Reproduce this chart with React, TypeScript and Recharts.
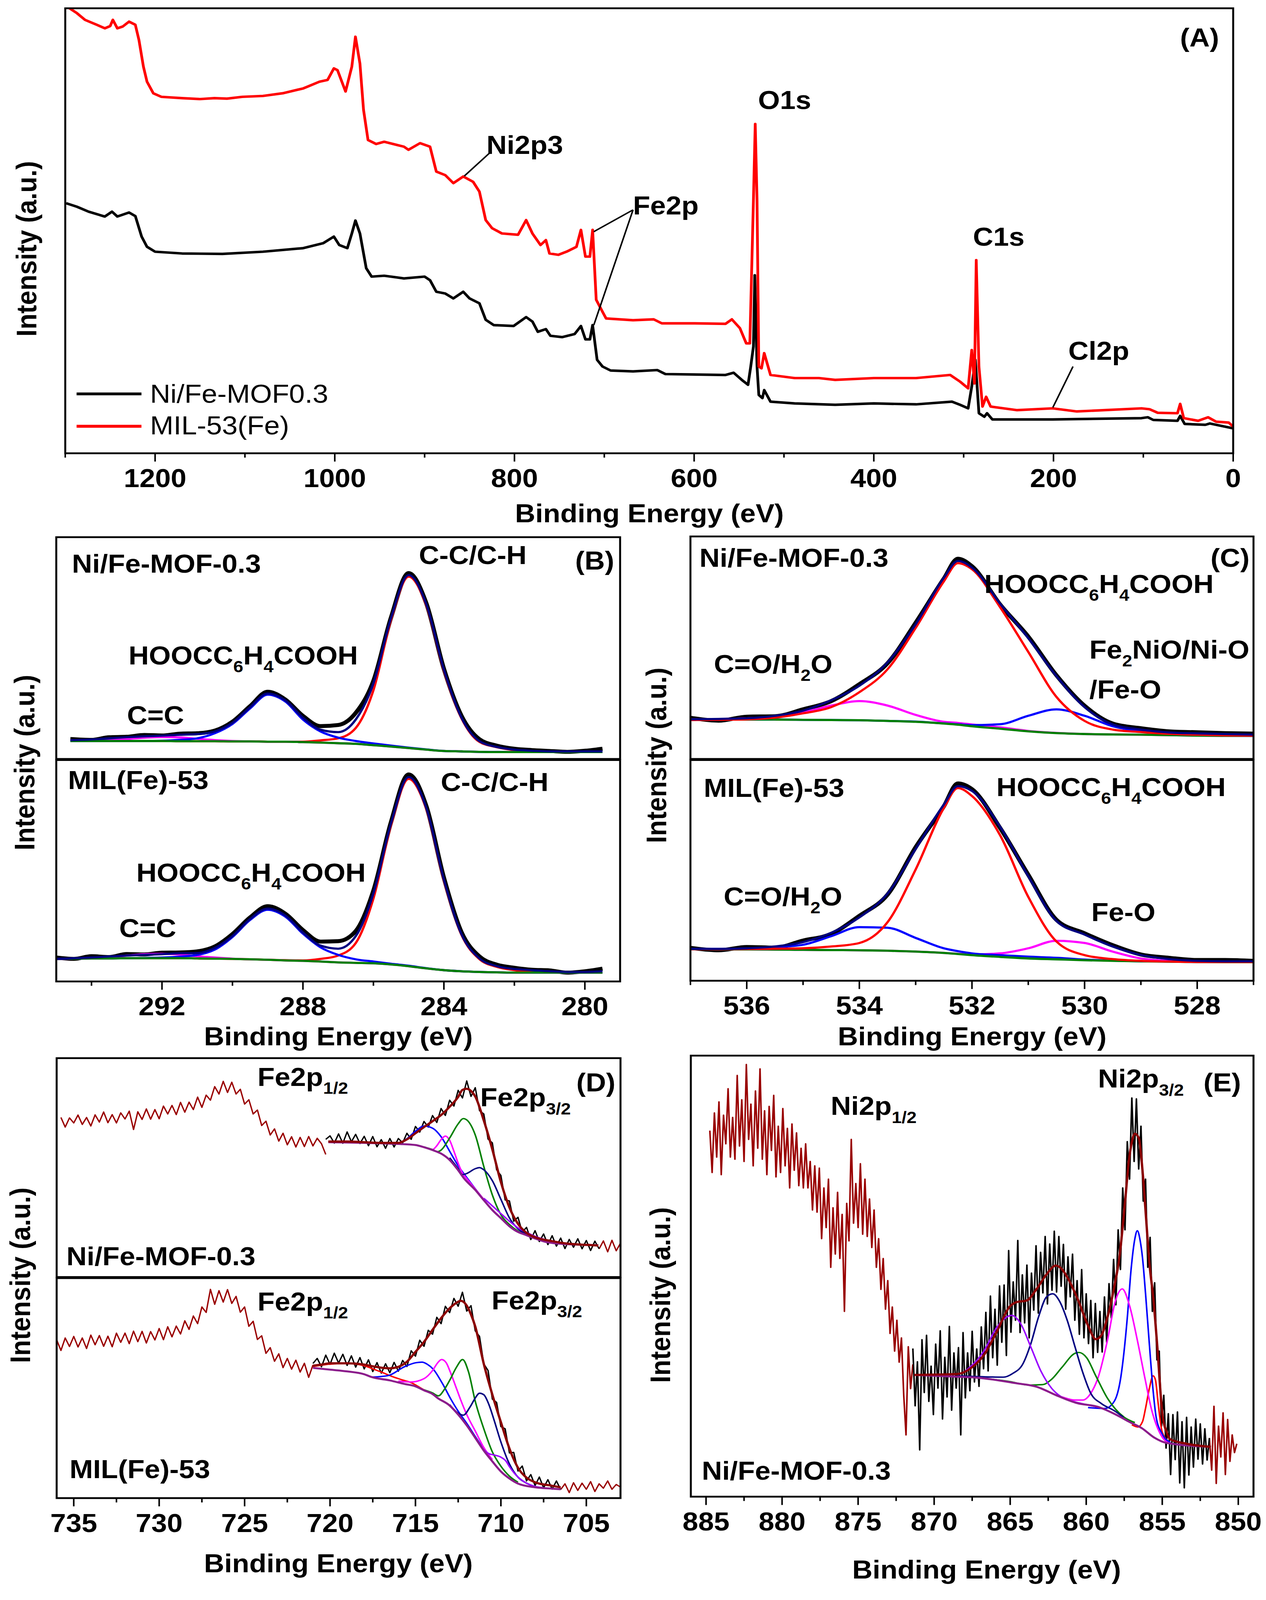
// XPS figure: survey (A), C1s (B), O1s (C), Fe2p (D), Ni2p (E)
import { LineChart, Line, XAxis, YAxis, ReferenceLine } from "recharts";

const FONT = '"Liberation Sans", Arial, Helvetica, sans-serif';

const BLACK = "#000000";
const RED = "#ff0000";
const BLUE = "#0000ff";
const MAGENTA = "#ff00ff";
const GREEN = "#008000";
const NAVY = "#000080";
const VIOLET = "#9900ff";
const PURPLE = "#8b1c8b";
const MAROON = "#8b0000";
const RAWRED = "#990000";

// the figure is laid out in 3240 x 4444 px; the visible screen is 4096 px tall
const FIG_H = 4444;
const SCREEN_H = 4096;

// ---------- (A) survey, [BE (eV), intensity] ----------
const aMajor = [1200, 1000, 800, 600, 400, 200, 0];
const aMinor = [1300, 1100, 900, 700, 500, 300, 100];
const aMil53 = [
  [1299, 100.5], [1287, 98.9], [1278, 97.4], [1265, 96.3], [1256, 95.5], [1250, 96.0], [1247, 97.4],
  [1242, 95.5], [1236, 95.9], [1229, 97.0], [1222, 96.3], [1218, 92.9], [1213, 86.9], [1209, 83.5],
  [1202, 80.9], [1193, 80.1], [1170, 79.8], [1150, 79.6], [1134, 79.8], [1120, 79.7], [1103, 80.1],
  [1080, 80.3], [1058, 80.9], [1035, 82.0], [1017, 83.5], [1008, 83.9], [1001, 86.5], [997, 86.1],
  [988, 81.3], [981, 86.9], [977, 93.6], [972, 87.6], [968, 77.2], [963, 70.4], [954, 69.5],
  [945, 70.0], [923, 68.9], [918, 68.2], [905, 69.7], [894, 68.9], [887, 63.3], [877, 62.5],
  [868, 60.7], [857, 62.2], [846, 61.0], [839, 58.8], [832, 52.4], [825, 50.6], [814, 49.4],
  [796, 49.1], [787, 52.4], [780, 49.4], [771, 46.8], [765, 47.9], [761, 44.9], [751, 44.6],
  [742, 45.3], [731, 46.4], [726, 50.2], [721, 44.2], [716, 44.2], [713, 50.2], [709, 34.5],
  [702, 31.8], [698, 30.3], [668, 29.9], [645, 30.1], [636, 29.2], [600, 29.2], [565, 29.1],
  [558, 30.1], [549, 28.1], [542, 24.7], [538, 24.7], [534, 56.9], [532, 74.0], [530, 56.9],
  [528, 19.5], [525, 19.1], [522, 22.5], [515, 17.6], [488, 16.9], [461, 16.9], [443, 16.5],
  [400, 16.9], [353, 16.9], [315, 17.6], [304, 16.1], [295, 14.6], [291, 23.2], [288, 15.7],
  [286, 43.4], [283, 19.5], [279, 10.5], [275, 12.7], [270, 10.5], [241, 9.7], [201, 10.1],
  [174, 9.4], [102, 10.1], [93, 9.9], [84, 9.1], [62, 9.0], [59, 11.1], [55, 7.9], [39, 7.3],
  [28, 8.1], [19, 7.1], [5, 6.9], [0, 6.0],
];
const aNiFe = [
  [1299, 56.2], [1287, 55.4], [1274, 54.3], [1256, 53.2], [1248, 54.3], [1242, 53.2], [1229, 54.1],
  [1222, 53.3], [1215, 48.7], [1209, 46.4], [1200, 45.3], [1170, 44.9], [1125, 44.8], [1080, 45.3],
  [1035, 46.1], [1013, 47.2], [1001, 48.7], [995, 46.8], [986, 46.1], [981, 49.4], [977, 52.3],
  [972, 49.4], [965, 41.6], [959, 39.7], [945, 39.9], [923, 39.3], [900, 39.7], [894, 38.9],
  [887, 36.3], [877, 35.9], [868, 34.8], [857, 36.3], [850, 34.8], [839, 33.7], [832, 30.0],
  [823, 28.8], [801, 28.6], [787, 30.6], [780, 29.6], [774, 27.3], [765, 27.9], [760, 26.4],
  [747, 26.1], [733, 26.8], [726, 28.6], [721, 25.6], [716, 25.6], [713, 28.8], [708, 21.0],
  [702, 19.5], [693, 18.6], [668, 18.4], [641, 18.7], [632, 17.8], [565, 17.6], [556, 18.1],
  [547, 16.5], [540, 15.4], [537, 19.5], [534, 24.0], [532.5, 40.0], [530, 19.5], [528, 13.1],
  [524, 12.4], [522, 14.2], [515, 11.6], [488, 11.2], [443, 10.9], [400, 11.2], [353, 11.0],
  [313, 11.6], [304, 10.9], [295, 10.1], [291, 15.0], [287, 21.0], [283, 9.0], [277, 8.2],
  [274, 9.0], [268, 7.6], [201, 7.6], [102, 7.9], [95, 8.1], [89, 7.5], [62, 7.3], [59, 8.4],
  [54, 6.6], [31, 6.4], [26, 6.7], [0, 5.6],
];
const aPointers = [
  [[855.8, 62.3], [827, 67.6]],
  [[711.7, 49.8], [668, 54.7]],
  [[711.7, 28.8], [668, 54.7]],
  [[200.7, 10.3], [178.3, 19.5]],
];

// ---------- (B) C1s ----------
const bMajor = [292, 288, 284, 280];
const bMinor = [294, 290, 286, 282];
const bTopE = [294.6, 294, 293.5, 293, 292.5, 292, 291.5, 291, 290.5, 290, 289.5, 289, 288.5, 288, 287.5, 287, 286.5, 286, 285.5, 285, 284.5, 284, 283.5, 283, 282.5, 282, 281.5, 281, 280.5, 280, 279.5];
const bTopRaw = [9.0, 8.6, 9.8, 10.0, 10.8, 10.6, 11.4, 11.6, 12.8, 16.8, 23.8, 30.3, 26.8, 19.4, 14.8, 15.3, 20.8, 35.2, 63.8, 83.8, 70.2, 40.6, 19.4, 9.0, 6.0, 4.6, 4.0, 3.6, 3.2, 3.7, 4.6];
const bTopFit = [8.5, 8.8, 9.3, 9.8, 10.2, 10.5, 10.9, 11.2, 12.4, 16.3, 23.3, 29.5, 26.4, 18.6, 13.2, 12.1, 17.8, 34.1, 63.6, 82.9, 69.8, 40.3, 18.6, 8.1, 5.4, 4.2, 3.7, 3.4, 3.4, 3.4, 3.4];
const bTopBase = [8.1, 8.1, 8.1, 8.1, 8.1, 8.1, 8.0, 8.0, 8.0, 7.9, 7.9, 7.8, 7.8, 7.6, 7.4, 7.1, 6.8, 6.2, 5.6, 4.9, 4.2, 3.6, 3.4, 3.2, 3.1, 3.1, 3.1, 3.1, 3.1, 3.1, 3.1];
const bTopCC = [8.1, 8.1, 8.1, 8.1, 8.1, 8.1, 8.0, 8.0, 8.0, 7.9, 7.9, 7.8, 7.8, 7.8, 8.4, 9.3, 14.0, 31.0, 62.8, 82.2, 69.3, 39.8, 18.3, 7.8, 5.3, 4.0, 3.5, 3.2, 3.1, 3.1, 3.1];
const bTopCOOH = [8.1, 8.1, 8.1, 8.1, 8.1, 8.2, 8.6, 9.3, 11.6, 15.8, 22.8, 29.0, 25.9, 17.8, 12.4, 9.6, 8.1, 7.0, 6.0, 5.1, 4.3, 3.6, 3.4, 3.2, 3.1, 3.1, 3.1, 3.1, 3.1, 3.1, 3.1];
const bTopCdC = [8.1, 8.2, 8.5, 9.0, 9.6, 9.9, 9.7, 9.1, 8.5, 8.1, 7.9, 7.8, 7.8, 7.6, 7.4, 7.1, 6.8, 6.2, 5.6, 4.9, 4.2, 3.6, 3.4, 3.2, 3.1, 3.1, 3.1, 3.1, 3.1, 3.1, 3.1];
const bBotE = [295, 294.5, 294, 293.5, 293, 292.5, 292, 291.5, 291, 290.5, 290, 289.5, 289, 288.5, 288, 287.5, 287, 286.5, 286, 285.5, 285, 284.5, 284, 283.5, 283, 282.5, 282, 281.5, 281, 280.5, 280, 279.5];
const bBotRaw = [10.8, 10.2, 11.4, 11.0, 12.4, 12.2, 13.0, 13.1, 13.6, 15.8, 21.4, 28.9, 34.0, 30.6, 23.2, 18.0, 18.2, 22.8, 41.0, 72.0, 93.5, 79.2, 46.8, 22.2, 11.4, 7.6, 6.2, 5.3, 5.0, 4.0, 4.6, 5.8];
const bBotFit = [10.2, 10.5, 10.8, 11.3, 11.7, 12.0, 12.3, 12.7, 12.8, 15.1, 20.5, 28.2, 32.9, 29.8, 22.1, 16.2, 14.8, 20.5, 39.8, 71.5, 92.3, 78.4, 46.0, 21.3, 10.5, 6.9, 5.6, 5.1, 4.6, 4.3, 4.3, 4.6];
const bBotBase = [10.2, 10.3, 10.4, 10.4, 10.5, 10.5, 10.5, 10.5, 10.4, 10.3, 10.2, 10.0, 9.8, 9.5, 9.3, 9.0, 8.6, 8.4, 8.2, 7.7, 6.9, 5.9, 5.1, 4.6, 4.3, 4.1, 4.0, 4.0, 4.0, 4.0, 4.0, 4.0];
const bBotCC = [10.2, 10.3, 10.4, 10.4, 10.5, 10.5, 10.5, 10.5, 10.4, 10.3, 10.2, 10.0, 9.8, 9.6, 9.5, 10.2, 11.7, 17.4, 37.5, 70.7, 91.5, 77.9, 45.5, 21.0, 10.2, 6.6, 5.1, 4.4, 4.1, 4.0, 4.0, 4.0];
const bBotCOOH = [10.2, 10.3, 10.4, 10.4, 10.5, 10.6, 10.8, 11.2, 12.0, 14.4, 20.1, 27.8, 32.4, 29.3, 21.6, 15.4, 12.0, 10.0, 9.0, 8.0, 7.1, 6.0, 5.1, 4.6, 4.3, 4.1, 4.0, 4.0, 4.0, 4.0, 4.0, 4.0];
const bBotCdC = [10.2, 10.3, 10.6, 11.1, 11.7, 12.3, 12.5, 12.2, 11.4, 10.8, 10.3, 10.0, 9.8, 9.5, 9.3, 9.0, 8.6, 8.4, 8.2, 7.7, 6.9, 5.9, 5.1, 4.6, 4.3, 4.1, 4.0, 4.0, 4.0, 4.0, 4.0, 4.0];

// ---------- (C) O1s ----------
const cMajor = [536, 534, 532, 530, 528];
const cMinor = [537, 535, 533, 531, 529, 527];
const cE = [537, 536.5, 536, 535.5, 535, 534.5, 534, 533.5, 533, 532.5, 532.25, 532, 531.5, 531, 530.5, 530, 529.5, 529, 528.5, 528, 527.5, 527];
const cTopRaw = [18.5, 17.2, 19.0, 19.2, 22.3, 26.0, 33.6, 43.0, 61.2, 81.0, 90.0, 86.6, 69.4, 55.0, 37.6, 23.9, 15.9, 13.8, 12.4, 12.0, 11.6, 11.4];
const cTopFit = [17.8, 18.0, 18.3, 19.4, 21.7, 26.4, 32.9, 43.4, 60.5, 81.4, 89.0, 86.0, 69.8, 54.3, 37.2, 23.3, 15.5, 13.2, 11.9, 11.5, 11.2, 10.9];
const cTopMain = [17.5, 17.6, 17.8, 18.6, 20.5, 23.3, 30.0, 40.3, 58.9, 79.8, 88.0, 85.3, 68.2, 48.1, 27.9, 17.1, 13.2, 12.1, 11.3, 10.9, 10.6, 10.5];
const cTopCO = [17.8, 17.9, 18.3, 18.9, 20.9, 24.0, 26.0, 24.0, 19.8, 16.7, 16.2, 15.5, 14.2, 12.6, 11.7, 11.2, 11.0, 10.9, 10.7, 10.5, 10.4, 10.4];
const cTopFeO = [17.8, 17.8, 17.7, 17.7, 17.6, 17.5, 17.4, 17.1, 16.8, 16.0, 15.6, 15.2, 15.6, 19.4, 22.3, 19.4, 14.7, 12.4, 11.2, 10.7, 10.5, 10.4];
const cTopBase = [17.8, 17.8, 17.7, 17.7, 17.6, 17.5, 17.4, 17.1, 16.7, 15.9, 15.4, 14.7, 13.6, 12.4, 11.6, 11.2, 11.0, 10.9, 10.7, 10.5, 10.4, 10.4];
const cBotRaw = [14.9, 13.8, 15.3, 15.0, 18.2, 21.2, 29.4, 39.0, 60.5, 79.0, 89.4, 86.8, 69.2, 48.0, 27.6, 21.5, 16.1, 11.9, 10.4, 9.4, 9.4, 9.0];
const cBotFit = [14.4, 14.4, 14.7, 15.5, 17.5, 21.7, 28.7, 39.5, 59.7, 79.8, 88.2, 86.0, 69.8, 47.3, 27.1, 20.9, 15.5, 11.6, 9.8, 9.0, 8.8, 8.8];
const cBotMain = [14.3, 14.3, 14.4, 14.5, 14.7, 15.5, 17.1, 26.5, 50.4, 78.3, 87.3, 83.7, 65.9, 38.0, 17.8, 11.6, 9.8, 9.0, 8.7, 8.5, 8.5, 8.5];
const cBotCO = [14.4, 14.4, 14.4, 15.2, 16.3, 20.2, 24.3, 24.0, 19.4, 14.7, 13.4, 12.4, 11.6, 10.9, 10.4, 9.6, 9.1, 8.8, 8.7, 8.5, 8.5, 8.4];
const cBotFeO = [14.3, 14.2, 14.2, 14.1, 14.0, 13.9, 13.8, 13.6, 13.2, 12.6, 12.2, 11.9, 12.4, 14.7, 18.1, 17.1, 13.2, 10.1, 9.0, 8.6, 8.5, 8.4];
const cBotBase = [14.3, 14.2, 14.2, 14.1, 14.0, 13.9, 13.8, 13.6, 13.2, 12.6, 12.1, 11.6, 10.8, 10.1, 9.7, 9.3, 9.0, 8.8, 8.6, 8.5, 8.4, 8.4];

// ---------- (D) Fe2p ----------
const dMajor = [735, 730, 725, 720, 715, 710, 705];
const dMinor = [732.5, 727.5, 722.5, 717.5, 712.5, 707.5];
// raw scans: first energy, step (eV), counts
const dTopRedScan = { start: 735.75, step: 0.25 };
const dTopRed = [72.9, 68.5, 72.7, 70.4, 74, 69.7, 72.9, 69, 74.1, 70.8, 75.4, 70.5, 74.2, 70.4, 75, 72.2, 75.8, 67.4, 75.5, 72, 76.8, 72.1, 76.5, 72.3, 78.1, 74.5, 78.4, 74.2, 79.8, 75.3, 79.9, 76.5, 82.2, 77.5, 83.1, 80.8, 87, 83.6, 89.4, 84.3, 89, 83.6, 85.8, 79, 81, 74.5, 76.3, 69.2, 71.2, 64.9, 67.7, 62.1, 65.7, 60.4, 64.1, 59.4, 63.8, 59.6, 64.2, 59.9, 63.4, 60.9, 56];
const dTopBlackScan = { start: 720.25, step: 0.25 };
const dTopBlack = [62.9, 64.5, 61.2, 65.4, 61.1, 66.3, 61.8, 65.2, 61, 64.3, 60, 64.2, 59.5, 62.8, 58.8, 63.3, 59.4, 63.3, 61.3, 65.7, 62.9, 68.8, 66.2, 71.1, 68.5, 73.8, 70.6, 77, 73.8, 80.8, 78.1, 85.3, 81.8, 89.6, 82.5, 86.5, 76, 74.5, 63, 61.3, 49, 46.4, 35.2, 34.8, 25.5, 27.3, 20.5, 22.7, 17.1, 21.2, 16.2, 19.7, 14.8, 18.9, 14.1, 17.8, 13, 17.2, 13.6, 17.5, 12.9, 16.7, 12.1, 16.4, 12.9];
const dTopTailScan = { start: 704.25, step: 0.25 };
const dTopTail = [12.9, 16.5, 11.5, 16.8, 12, 15.5];
const dTopFit = [[720.1, 61.9], [719, 61.9], [718, 61.6], [717, 61.3], [716, 61.3], [715.5, 62.9], [715, 65.7], [714.5, 68.5], [714, 71.2], [713.5, 74.0], [713, 77.8], [712.5, 82.3], [712.25, 85.5], [712, 86.0], [711.75, 85.0], [711.5, 82.5], [711, 71.5], [710.5, 58.3], [710, 43.4], [709.5, 31.8], [709, 24.3], [708.5, 20.2], [708, 18.2], [707, 16.4], [706, 15.2], [705, 14.7], [704.3, 14.4]];
const dTopBase = [[720.1, 61.6], [718, 61.3], [716, 60.8], [715, 60.3], [714.5, 59.3], [714, 58.0], [713.5, 56.4], [713, 53.5], [712.5, 48.8], [712.15, 45.0], [711.5, 39.8], [711, 35.1], [710.5, 30.6], [710, 26.9], [709.5, 23.2], [709, 20.6], [708.6, 19.4], [708, 17.6], [707.4, 16.1], [706.5, 15.2], [705, 14.7], [704.3, 14.5]];
const dTopBlue = [[716.5, 60.8], [716, 61.2], [715.5, 63.2], [715, 66.6], [714.5, 69.0], [714, 68.0], [713.5, 64.1], [713, 57.5], [712.5, 50.8], [712, 45.5], [711.5, 40.3], [711, 35.4]];
const dTopMagenta = [[715, 60.3], [714.5, 59.4], [714, 58.3], [713.75, 60.0], [713.5, 62.8], [713.25, 64.4], [713, 62.5], [712.75, 57.5], [712.5, 52.0], [712.25, 47.5], [712, 45.0], [711.5, 40.2], [711, 35.5]];
const dTopGreen = [[714.5, 59.4], [714, 58.2], [713.7, 57.3], [713.5, 58.0], [713, 63.5], [712.5, 70.0], [712.2, 72.4], [712, 71.8], [711.5, 64.9], [711, 50.5], [710.5, 37.5], [710, 28.5], [709.5, 24.0], [709, 21.0], [708.5, 19.2], [708, 17.8]];
const dTopNavy = [[713, 54.5], [712.5, 49.5], [712.25, 46.8], [712, 47.3], [711.5, 49.5], [711.25, 50.0], [711, 49.0], [710.5, 44.0], [710, 35.5], [709.5, 27.0], [709, 22.0], [708.5, 19.6], [708, 17.9]];
const dTopViolet = [[711, 36.0], [710.5, 32.5], [710, 29.0], [709.5, 25.5], [709, 22.5], [708.5, 20.4], [708, 18.6], [707.5, 17.3], [707, 16.3], [706.5, 15.5]];

const dBotRedScan = { start: 736.0, step: 0.25 };
const dBotRed = [72, 67.1, 72.8, 68.9, 73.5, 68.7, 72.8, 68, 74.1, 69.7, 73.9, 69, 73.6, 68.8, 75, 70.8, 75, 70.2, 75.9, 71.1, 75.8, 70.5, 75.7, 71.9, 77.1, 72, 77.9, 73.3, 78.2, 74.6, 80.6, 76.7, 82.8, 79.3, 86.9, 84.4, 94.9, 88.1, 94.3, 89.1, 94.8, 88.5, 91.7, 84.5, 86.9, 78.1, 80.4, 72.1, 73.8, 65.8, 68.4, 62.2, 65.6, 59.3, 63.5, 58.6, 62.7, 57.3, 61.3, 54.9, 60.5];
const dBotBlackScan = { start: 721.0, step: 0.25 };
const dBotBlack = [61.2, 63.5, 59.7, 65, 60.8, 65.9, 61.4, 65.4, 60.3, 64.7, 59.5, 63.9, 58.7, 62.9, 57.5, 61.6, 56.8, 61.1, 57, 61.7, 57.7, 62.6, 59.8, 67, 64.5, 71.8, 69, 76.3, 74.5, 82.2, 79.3, 87.2, 84.3, 90.8, 87.2, 93.6, 85, 87.5, 76, 73.5, 61, 58, 45, 43.5, 32.5, 31.5, 20.5, 20.8, 12.3, 14.6, 7.8, 10.7, 5.7, 9.6, 4.7, 8.4, 4.1, 7.8, 3.9];
const dBotTailScan = { start: 706.5, step: 0.25 };
const dBotTail = [3.9, 6.5, 2.5, 7, 3.5, 6.8, 4, 7.5, 3, 6.5, 4.5, 7.8, 4, 6.2, 5];
const dBotFit = [[721, 60.2], [720.5, 60.7], [720, 61.3], [719, 61.3], [718, 60.7], [717.5, 59.9], [717, 59.3], [716.5, 59.0], [716, 59.7], [715.5, 62.0], [715, 66.5], [714.5, 71.0], [714, 76.5], [713.5, 81.8], [713, 86.3], [712.6, 88.8], [712.35, 89.7], [712, 87.5], [711.75, 83.5], [711.5, 78.0], [711, 61.0], [710.5, 47.0], [710, 34.5], [709.5, 22.5], [709, 13.8], [708.5, 9.3], [708, 7.2], [707, 5.6], [706.5, 4.9]];
const dBotBase = [[721, 59.2], [720, 58.4], [719, 57.6], [718, 56.3], [717.55, 55.0], [716.5, 53.5], [715.65, 51.9], [715, 50.8], [714.5, 49.0], [714, 47.3], [713.7, 45.5], [713, 42.1], [712.5, 38.0], [712, 33.1], [711.5, 27.4], [711, 21.6], [710.5, 16.7], [710, 12.1], [709.5, 8.9], [709, 6.6], [708, 4.9], [707, 4.3], [706.5, 4.0]];
const dBotSat = [[721, 59.8], [720, 60.9], [719, 61.2], [718, 60.2], [717.55, 58.9], [717, 57.3], [716.4, 55.4], [715.8, 53.8], [715.26, 52.5], [714.5, 49.2], [714, 47.5]];
const dBotBlue = [[717.55, 55.0], [716.6, 55.7], [715.65, 59.7], [715, 61.5], [714.62, 61.8], [714.3, 60.8], [713.96, 58.6], [713.43, 52.2], [712.9, 44.6], [712.5, 39.5], [712, 34.0], [711.5, 28.0], [711, 22.0]];
const dBotMagenta = [[716, 53.2], [715.26, 52.8], [714.5, 54.3], [714, 58.0], [713.7, 61.5], [713.47, 63.0], [713.2, 61.5], [712.97, 57.5], [712.58, 49.4], [712.35, 44.6], [712, 38.0], [711.5, 30.5], [711, 23.0], [710.5, 17.5]];
const dBotGreen = [[714.5, 49.2], [714, 47.8], [713.66, 46.5], [713.3, 49.5], [713, 53.5], [712.6, 59.5], [712.24, 63.0], [711.9, 57.5], [711.5, 44.0], [711, 31.5], [710.5, 21.0], [710, 14.5], [709.5, 10.0], [709, 7.2]];
const dBotNavy = [[713, 42.5], [712.5, 38.6], [712.2, 37.7], [711.8, 41.5], [711.5, 45.5], [711.25, 47.7], [711, 47.0], [710.7, 42.5], [710.4, 35.5], [710, 25.5], [709.5, 15.5], [709, 9.5], [708.5, 6.8], [708, 5.2]];
const dBotViolet = [[711.5, 27.5], [711, 22.0], [710.7, 20.2], [710.4, 19.6], [710, 18.6], [709.7, 16.8], [709.5, 14.3], [709.2, 11.2], [709, 9.6], [708.5, 6.8], [708, 5.3], [707.5, 4.7]];

// ---------- (E) Ni2p ----------
const eMajor = [885, 880, 875, 870, 865, 860, 855, 850];
const eMinor = [882.5, 877.5, 872.5, 867.5, 862.5, 857.5, 852.5];
const eRedScan = { start: 884.75, step: 0.15 };
const eRed = [83, 73.5, 87, 77, 89.5, 73, 86.5, 80, 92.5, 77, 86, 76.5, 95.5, 79.5, 90, 76, 98, 81, 89, 75, 92, 79, 97, 76.5, 87.5, 73, 88.5, 78.5, 91, 72.5, 84, 73.5, 88, 75, 83.5, 70, 84.5, 74, 82.5, 70.5, 79, 70, 80, 70, 76, 65, 75, 64.5, 74.5, 58.5, 70, 61, 72, 52, 65.5, 55, 69, 54, 64, 42, 66.5, 58, 81, 62, 71, 61, 75.5, 59.5, 72, 59, 67.5, 56.5, 65, 52, 58.5, 47, 54, 42.5, 49, 37, 43, 33, 40, 30.5, 36, 23, 14, 34, 24.5, 30];
const eBlackScan = { start: 871.4, step: 0.15 };
const eBlack = [33.6, 20.6, 30.6, 10.6, 35.6, 23.6, 36.6, 21.6, 29.6, 18.6, 34.6, 24.6, 37.6, 17.6, 31.6, 22.6, 38.6, 19.6, 32.6, 24.6, 33.8, 14, 37.2, 22.4, 32.6, 24, 37.5, 26, 33.5, 25, 38.5, 29, 41.8, 28.5, 45.5, 31.5, 42.5, 29.8, 47.8, 35, 48, 32, 55.8, 37.3, 48.7, 40, 58.1, 37.2, 50.3, 39.4, 52.5, 36, 50.7, 42.3, 56.9, 41.6, 55.4, 46.2, 59, 43.7, 57.3, 46.8, 60.2, 46.4, 59, 47.7, 57.2, 42.5, 54.4, 45.3, 55, 40, 49, 36.8, 51.5, 36, 46, 34.7, 44.5, 31.5, 43.8, 32.7, 42, 32.8, 45.3, 35, 48.3, 40.5, 53.8, 43.5, 60.5, 51.5, 70, 60.5, 80.5, 72, 90.4, 76, 90.2, 74.3, 84, 67, 72, 52, 58.8, 42, 48.5, 31, 33, 16, 23, 11, 18.8, 5, 18.6, 8.4, 19.2, 3.1, 17, 2, 18, 4.9, 15.8, 6.7, 17.6, 8.5, 16.5, 7.4, 15.4, 8.3, 13.3];
const eTailScan = { start: 851.9, step: 0.15 };
const eTail = [13.3, 6, 20.5, 3, 16, 9, 19, 5, 17.5, 8, 14, 10, 12];
const eFit = [[871.3, 27.6], [868.5, 27.8], [867.6, 29.1], [866.73, 32.1], [865.88, 37.4], [865.03, 43.1], [864.6, 44.1], [863.9, 44.5], [863.3, 46.9], [862.61, 50.4], [862.0, 52.4], [861.58, 51.5], [861.17, 49.3], [860.55, 44.7], [859.88, 38.8], [859.37, 35.7], [859.0, 36.6], [858.6, 40.7], [858.16, 47.5], [857.82, 54.2], [857.46, 66.3], [857.2, 76.0], [857.0, 80.4], [856.81, 82.3], [856.54, 81.3], [856.3, 74.0], [856.1, 64.9], [855.84, 52.8], [855.58, 44.7], [855.33, 34.2], [855.0, 19.0], [854.7, 14.5], [854.47, 13.0], [853.4, 12.0], [851.8, 11.3]];
const eBase = [[871.3, 27.6], [868.45, 27.2], [867.23, 27.0], [864.57, 25.7], [863.24, 24.9], [861.91, 22.9], [860.59, 21.2], [859.26, 20.4], [857.93, 18.4], [857.13, 16.9], [856.33, 15.5], [855.53, 13.4], [854.73, 12.2], [851.8, 11.3]];
const eViolet = [[871.3, 27.6], [868.45, 27.8], [867.6, 29.5], [866.73, 33.0], [865.88, 38.4], [864.9, 41.1], [864.34, 39.4], [863.65, 34.0], [862.97, 28.4], [862.28, 24.6], [861.42, 22.2], [860.74, 21.5], [859.88, 20.8], [859.0, 20.1]];
const eNavy = [[868.45, 27.4], [865.45, 27.1], [864.85, 27.9], [864.15, 30.2], [863.65, 34.6], [863.13, 40.8], [862.61, 45.3], [862.2, 46.0], [861.75, 44.3], [861.25, 40.0], [860.74, 34.0], [860.22, 28.1], [859.71, 23.5], [859.0, 21.1], [858.16, 19.5], [857.55, 18.0]];
const eGreen = [[868.45, 27.3], [865.03, 26.1], [863.74, 25.3], [862.88, 25.4], [862.28, 26.6], [861.6, 29.3], [860.74, 32.5], [860.48, 32.7], [859.97, 31.5], [859.37, 27.4], [858.6, 22.3], [857.5, 18.0], [856.8, 16.8]];
const eMagenta = [[863.3, 25.0], [861.58, 22.6], [860.74, 21.9], [860.22, 21.9], [859.71, 23.4], [859.2, 27.2], [858.6, 35.5], [858.08, 44.4], [857.63, 47.1], [857.15, 43.3], [856.64, 35.5], [856.13, 26.7], [855.7, 19.7], [855.3, 15.5], [854.9, 13.0], [854.4, 12.0]];
const eBlue = [[859.88, 20.2], [858.77, 20.0], [858.16, 21.6], [857.72, 27.2], [857.3, 40.5], [857.05, 51.5], [856.8, 58.5], [856.64, 60.3], [856.45, 58.0], [856.3, 54.2], [856.1, 46.1], [855.84, 34.2], [855.6, 24.0], [855.4, 18.0], [855.0, 14.2], [854.47, 12.3]];
const eRedPeak = [[857.0, 16.3], [856.6, 15.8], [856.3, 17.0], [856.1, 20.0], [855.85, 24.5], [855.6, 27.4], [855.45, 26.5], [855.27, 21.2], [855.0, 14.6], [854.47, 12.2]];

// ---------- helpers ----------
type Pt = { x: number; y: number };
const fromPairs = (list: number[][]): Pt[] => list.map(([x, y]) => ({ x, y }));
const fromGrid = (xs: number[], ys: number[]): Pt[] => xs.map((x, i) => ({ x, y: ys[i] }));
const fromScan = (scan: { start: number; step: number }, ys: number[]): Pt[] =>
  ys.map((y, i) => ({ x: Math.round((scan.start - i * scan.step) * 1000) / 1000, y }));

interface Series {
  data: Pt[];
  color: string;
  width: number;
  curve?: "linear" | "monotone";
}
interface Box {
  left: number;
  top: number;
  width: number;
  height: number;
}

// plot boxes in figure pixels
const boxA: Box = { left: 167, top: 23, width: 2989, height: 1236 };
const boxBTop: Box = { left: 144, top: 1492, width: 1443, height: 616 };
const boxBBot: Box = { left: 144, top: 2111, width: 1443, height: 615 };
const boxCTop: Box = { left: 1767, top: 1490, width: 1441, height: 618 };
const boxCBot: Box = { left: 1767, top: 2111, width: 1441, height: 613 };
const boxDTop: Box = { left: 145, top: 2939, width: 1443, height: 608 };
const boxDBot: Box = { left: 145, top: 3550, width: 1443, height: 611 };
const boxE: Box = { left: 1768, top: 2932, width: 1440, height: 1225 };
const frames = [boxA, boxBTop, boxBBot, boxCTop, boxCBot, boxDTop, boxDBot, boxE];

const PAD = 60;

function makeTick(major: number[]) {
  return (props: any) => {
    const { x, y, payload } = props;
    const isMajor = major.includes(payload.value);
    return (
      <g>
        <line x1={x} x2={x} y1={y} y2={y + (isMajor ? 23 : 12)} stroke="#000" strokeWidth={4} />
        {isMajor && (
          <text x={x} y={y + 94} textAnchor="middle" fontFamily={FONT} fontSize={72} fontWeight={700} fill="#000">
            {payload.value}
          </text>
        )}
      </g>
    );
  };
}

function Plot({
  box,
  domain,
  series,
  major,
  minor,
  pointers,
}: {
  box: Box;
  domain: [number, number];
  series: Series[];
  major?: number[];
  minor?: number[];
  pointers?: number[][][];
}) {
  const axisH = major ? 130 : 1;
  return (
    <div style={{ position: "absolute", left: box.left - PAD, top: box.top - PAD }}>
      <LineChart
        width={box.width + 2 * PAD}
        height={box.height + 2 * PAD + axisH}
        margin={{ top: PAD, right: PAD, bottom: PAD, left: PAD }}
      >
        <XAxis
          dataKey="x"
          type="number"
          domain={domain}
          reversed
          allowDataOverflow
          ticks={major ? [...major, ...(minor ?? [])] : []}
          interval={0}
          tick={major ? makeTick(major) : false}
          tickLine={false}
          tickSize={0}
          tickMargin={0}
          height={axisH}
          axisLine={false}
        />
        <YAxis type="number" domain={[0, 100]} allowDataOverflow hide />
        {series.map((s, i) => (
          <Line
            key={i}
            data={s.data}
            dataKey="y"
            type={s.curve ?? "monotone"}
            stroke={s.color}
            strokeWidth={s.width}
            strokeLinejoin="round"
            dot={false}
            activeDot={false}
            isAnimationActive={false}
          />
        ))}
        {(pointers ?? []).map((seg, i) => (
          <ReferenceLine
            key={`p${i}`}
            segment={[
              { x: seg[0][0], y: seg[0][1] },
              { x: seg[1][0], y: seg[1][1] },
            ]}
            stroke="#000"
            strokeWidth={4}
          />
        ))}
      </LineChart>
    </div>
  );
}

// ---------- text overlay ----------
type Part = string | [string];
interface Lbl {
  x: number;
  y: number;
  parts: Part[];
  weight?: number;
}
const labels: Lbl[] = [
  { x: 1245, y: 427, parts: ["Ni2p3"] },
  { x: 1620, y: 596, parts: ["Fe2p"] },
  { x: 1940, y: 303, parts: ["O1s"] },
  { x: 2490, y: 682, parts: ["C1s"] },
  { x: 2734, y: 999, parts: ["Cl2p"] },
  { x: 3020, y: 129, parts: ["(A)"] },
  { x: 384, y: 1119, parts: ["Ni/Fe-MOF0.3"], weight: 400 },
  { x: 384, y: 1207, parts: ["MIL-53(Fe)"], weight: 400 },

  { x: 184, y: 1591, parts: ["Ni/Fe-MOF-0.3"] },
  { x: 1072, y: 1567, parts: ["C-C/C-H"] },
  { x: 1472, y: 1582, parts: ["(B)"] },
  { x: 329, y: 1845, parts: ["HOOCC", ["6"], "H", ["4"], "COOH"] },
  { x: 325, y: 2012, parts: ["C=C"] },
  { x: 174, y: 2192, parts: ["MIL(Fe)-53"] },
  { x: 1128, y: 2197, parts: ["C-C/C-H"] },
  { x: 349, y: 2449, parts: ["HOOCC", ["6"], "H", ["4"], "COOH"] },
  { x: 305, y: 2603, parts: ["C=C"] },

  { x: 1790, y: 1574, parts: ["Ni/Fe-MOF-0.3"] },
  { x: 3098, y: 1574, parts: ["(C)"] },
  { x: 2519, y: 1647, parts: ["HOOCC", ["6"], "H", ["4"], "COOH"] },
  { x: 1827, y: 1869, parts: ["C=O/H", ["2"], "O"] },
  { x: 2788, y: 1829, parts: ["Fe", ["2"], "NiO/Ni-O"] },
  { x: 2788, y: 1940, parts: ["/Fe-O"] },
  { x: 1801, y: 2213, parts: ["MIL(Fe)-53"] },
  { x: 2550, y: 2211, parts: ["HOOCC", ["6"], "H", ["4"], "COOH"] },
  { x: 1852, y: 2515, parts: ["C=O/H", ["2"], "O"] },
  { x: 2793, y: 2558, parts: ["Fe-O"] },

  { x: 659, y: 3016, parts: ["Fe2p", ["1/2"]] },
  { x: 1229, y: 3073, parts: ["Fe2p", ["3/2"]] },
  { x: 1475, y: 3031, parts: ["(D)"] },
  { x: 170, y: 3514, parts: ["Ni/Fe-MOF-0.3"] },
  { x: 659, y: 3640, parts: ["Fe2p", ["1/2"]] },
  { x: 1258, y: 3637, parts: ["Fe2p", ["3/2"]] },
  { x: 178, y: 4106, parts: ["MIL(Fe)-53"] },

  { x: 2126, y: 3097, parts: ["Ni2p", ["1/2"]] },
  { x: 2810, y: 3021, parts: ["Ni2p", ["3/2"]] },
  { x: 3080, y: 3031, parts: ["(E)"] },
  { x: 1796, y: 4110, parts: ["Ni/Fe-MOF-0.3"] },
];
const xTitles = [
  [1662, 1451],
  [866, 2903],
  [2488, 2903],
  [866, 4367],
  [2525, 4384],
];
const yTitles = [
  [93, 691],
  [88, 2118],
  [1705, 2098],
  [77, 3542],
  [1715, 3597],
];

function Label({ x, y, parts, weight = 700 }: Lbl) {
  let inSub = false;
  const spans = parts.map((p, i) => {
    const sub = Array.isArray(p);
    const s = sub ? (p as [string])[0] : (p as string);
    const dy = sub && !inSub ? 22 : !sub && inSub ? -22 : 0;
    inSub = sub;
    return (
      <tspan key={i} dy={dy} fontSize={sub ? 46 : 72}>
        {s}
      </tspan>
    );
  });
  return (
    <text x={x} y={y} fontFamily={FONT} fontWeight={weight} fill="#000">
      {spans}
    </text>
  );
}

export default function App() {
  const raw = (data: Pt[], color = BLACK, width = 3.5): Series => ({ data, color, width, curve: "linear" });

  const aSeries: Series[] = [
    { data: fromPairs(aNiFe), color: BLACK, width: 7, curve: "linear" },
    { data: fromPairs(aMil53), color: RED, width: 7, curve: "linear" },
  ];

  const bTop: Series[] = [
    { data: fromGrid(bTopE, bTopRaw), color: BLACK, width: 11 },
    { data: fromGrid(bTopE, bTopCC), color: RED, width: 6 },
    { data: fromGrid(bTopE, bTopCdC), color: MAGENTA, width: 6 },
    { data: fromGrid(bTopE, bTopCOOH), color: BLUE, width: 6 },
    { data: fromGrid(bTopE, bTopBase), color: GREEN, width: 6 },
    { data: fromGrid(bTopE, bTopFit), color: NAVY, width: 6 },
  ];
  const bBot: Series[] = [
    { data: fromGrid(bBotE, bBotRaw), color: BLACK, width: 11 },
    { data: fromGrid(bBotE, bBotCC), color: RED, width: 6 },
    { data: fromGrid(bBotE, bBotCdC), color: MAGENTA, width: 6 },
    { data: fromGrid(bBotE, bBotCOOH), color: BLUE, width: 6 },
    { data: fromGrid(bBotE, bBotBase), color: GREEN, width: 6 },
    { data: fromGrid(bBotE, bBotFit), color: NAVY, width: 6 },
  ];
  const cTop: Series[] = [
    { data: fromGrid(cE, cTopRaw), color: BLACK, width: 11 },
    { data: fromGrid(cE, cTopCO), color: MAGENTA, width: 6 },
    { data: fromGrid(cE, cTopFeO), color: BLUE, width: 6 },
    { data: fromGrid(cE, cTopBase), color: GREEN, width: 6 },
    { data: fromGrid(cE, cTopMain), color: RED, width: 6 },
    { data: fromGrid(cE, cTopFit), color: NAVY, width: 6 },
  ];
  const cBot: Series[] = [
    { data: fromGrid(cE, cBotRaw), color: BLACK, width: 11 },
    { data: fromGrid(cE, cBotFeO), color: MAGENTA, width: 6 },
    { data: fromGrid(cE, cBotCO), color: BLUE, width: 6 },
    { data: fromGrid(cE, cBotBase), color: GREEN, width: 6 },
    { data: fromGrid(cE, cBotMain), color: RED, width: 6 },
    { data: fromGrid(cE, cBotFit), color: NAVY, width: 6 },
  ];
  const dTop: Series[] = [
    raw(fromScan(dTopRedScan, dTopRed), RAWRED),
    raw(fromScan(dTopTailScan, dTopTail), RAWRED),
    raw(fromScan(dTopBlackScan, dTopBlack)),
    { data: fromPairs(dTopBlue), color: BLUE, width: 4 },
    { data: fromPairs(dTopMagenta), color: MAGENTA, width: 4 },
    { data: fromPairs(dTopGreen), color: GREEN, width: 4 },
    { data: fromPairs(dTopNavy), color: NAVY, width: 4 },
    { data: fromPairs(dTopViolet), color: VIOLET, width: 4 },
    { data: fromPairs(dTopBase), color: PURPLE, width: 5.5 },
    { data: fromPairs(dTopFit), color: MAROON, width: 6 },
  ];
  const dBot: Series[] = [
    raw(fromScan(dBotRedScan, dBotRed), RAWRED),
    raw(fromScan(dBotTailScan, dBotTail), RAWRED),
    raw(fromScan(dBotBlackScan, dBotBlack)),
    { data: fromPairs(dBotSat), color: RED, width: 4 },
    { data: fromPairs(dBotBlue), color: BLUE, width: 4 },
    { data: fromPairs(dBotMagenta), color: MAGENTA, width: 4 },
    { data: fromPairs(dBotGreen), color: GREEN, width: 4 },
    { data: fromPairs(dBotNavy), color: NAVY, width: 4 },
    { data: fromPairs(dBotViolet), color: VIOLET, width: 4 },
    { data: fromPairs(dBotBase), color: PURPLE, width: 5.5 },
    { data: fromPairs(dBotFit), color: MAROON, width: 6 },
  ];
  const eSeries: Series[] = [
    raw(fromScan(eRedScan, eRed), RAWRED, 4),
    raw(fromScan(eTailScan, eTail), RAWRED, 4),
    raw(fromScan(eBlackScan, eBlack), BLACK, 4),
    { data: fromPairs(eRedPeak), color: RED, width: 4 },
    { data: fromPairs(eBlue), color: BLUE, width: 4 },
    { data: fromPairs(eMagenta), color: MAGENTA, width: 4 },
    { data: fromPairs(eGreen), color: GREEN, width: 4 },
    { data: fromPairs(eNavy), color: NAVY, width: 4 },
    { data: fromPairs(eViolet), color: VIOLET, width: 4 },
    { data: fromPairs(eBase), color: PURPLE, width: 5.5 },
    { data: fromPairs(eFit), color: MAROON, width: 6 },
  ];

  return (
    <div style={{ width: 3240, height: SCREEN_H, margin: -8, overflow: "hidden", background: "#fff" }}>
      <div
        style={{
          position: "relative",
          width: 3240,
          height: FIG_H,
          background: "#fff",
          transform: `scaleY(${SCREEN_H / FIG_H})`,
          transformOrigin: "0 0",
        }}
      >
        <Plot box={boxA} domain={[0, 1300]} series={aSeries} major={aMajor} minor={aMinor} pointers={aPointers} />

        <Plot box={boxBTop} domain={[279, 295]} series={bTop} />
        <Plot box={boxBBot} domain={[279, 295]} series={bBot} major={bMajor} minor={bMinor} />

        <Plot box={boxCTop} domain={[527, 537]} series={cTop} />
        <Plot box={boxCBot} domain={[527, 537]} series={cBot} major={cMajor} minor={cMinor} />

        <Plot box={boxDTop} domain={[703, 736]} series={dTop} />
        <Plot box={boxDBot} domain={[703, 736]} series={dBot} major={dMajor} minor={dMinor} />

        <Plot box={boxE} domain={[849, 886]} series={eSeries} major={eMajor} minor={eMinor} />

        <svg width={3240} height={FIG_H} style={{ position: "absolute", left: 0, top: 0, pointerEvents: "none" }}>
          {frames.map((b, i) => (
            <rect key={`f${i}`} x={b.left} y={b.top} width={b.width} height={b.height} fill="none" stroke="#000" strokeWidth={5} />
          ))}
          <line x1={196} x2={362} y1={1094} y2={1094} stroke={BLACK} strokeWidth={8} />
          <line x1={196} x2={362} y1={1184} y2={1184} stroke={RED} strokeWidth={8} />
          {labels.map((l, i) => (
            <Label key={i} {...l} />
          ))}
          {xTitles.map(([x, y], i) => (
            <text key={`x${i}`} x={x} y={y} textAnchor="middle" fontFamily={FONT} fontSize={72} fontWeight={700}>
              Binding Energy (eV)
            </text>
          ))}
          {yTitles.map(([x, y], i) => (
            <text
              key={`y${i}`}
              x={x}
              y={y}
              transform={`rotate(-90 ${x} ${y})`}
              textAnchor="middle"
              fontFamily={FONT}
              fontSize={72}
              fontWeight={700}
            >
              Intensity (a.u.)
            </text>
          ))}
        </svg>
      </div>
    </div>
  );
}
